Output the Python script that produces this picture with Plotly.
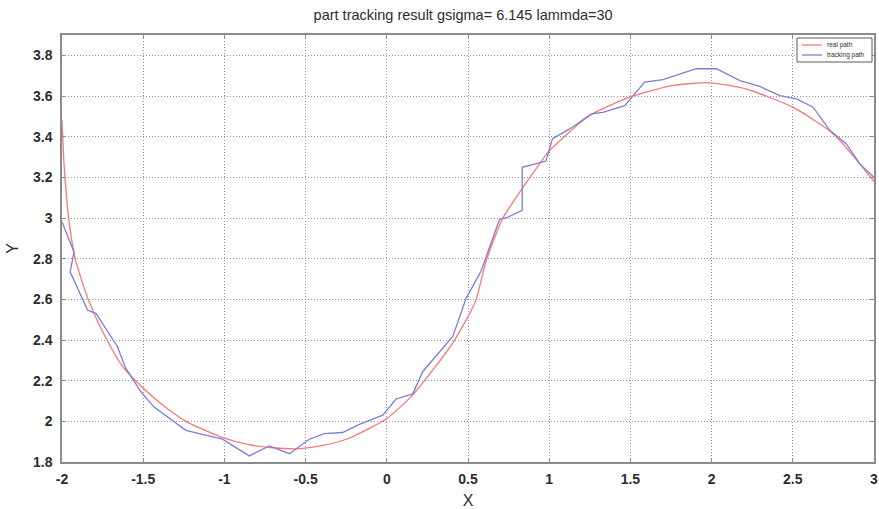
import plotly.graph_objects as go

real_x = [-2.0, -1.99, -1.98, -1.957, -1.916, -1.834, -1.73, -1.618, -1.515, -1.38, -1.237, -1.01,
          -0.85, -0.7, -0.55, -0.4, -0.23, 0.0, 0.16, 0.41, 0.546, 0.612, 0.715, 0.838, 0.94,
          1.0, 1.249, 1.496, 1.763, 1.99, 2.21, 2.5, 2.75, 3.0]
real_y = [3.48, 3.30, 3.18, 2.985, 2.79, 2.59, 2.41, 2.26, 2.175, 2.08, 2.0, 1.92,
          1.885, 1.87, 1.865, 1.88, 1.918, 2.014, 2.13, 2.39, 2.59, 2.79, 3.0, 3.15, 3.265,
          3.33, 3.504, 3.594, 3.652, 3.665, 3.635, 3.545, 3.413, 3.18]

track_x = [-2.0, -1.936, -1.926, -1.95, -1.843, -1.79, -1.659, -1.607, -1.515, -1.433, -1.237,
           -1.155, -1.012, -0.847, -0.724, -0.60, -0.477, -0.385, -0.272, -0.169, -0.025, 0.057,
           0.16, 0.221, 0.406, 0.489, 0.58, 0.694, 0.735, 0.834, 0.834, 0.951, 0.98, 1.02,
           1.126, 1.26, 1.331, 1.465, 1.588, 1.70, 1.906, 2.03, 2.174, 2.297, 2.42, 2.523,
           2.625, 2.729, 2.83, 2.914, 3.0]
track_y = [2.98, 2.85, 2.833, 2.735, 2.547, 2.53, 2.368, 2.26, 2.146, 2.07, 1.956,
           1.94, 1.912, 1.83, 1.879, 1.841, 1.912, 1.94, 1.945, 1.985, 2.03, 2.11,
           2.135, 2.244, 2.417, 2.606, 2.738, 2.993, 3.0, 3.038, 3.249, 3.273, 3.28, 3.39,
           3.438, 3.512, 3.52, 3.553, 3.668, 3.681, 3.734, 3.734, 3.676, 3.647, 3.602, 3.586,
           3.545, 3.43, 3.364, 3.265, 3.2]

series_names = ["real path", "tracking path"]
series_colors = ["rgb(248,120,120)", "rgb(125,125,215)"]

x_ticks = [-2, -1.5, -1, -0.5, 0, 0.5, 1, 1.5, 2, 2.5, 3]
x_labels = ["-2", "-1.5", "-1", "-0.5", "0", "0.5", "1", "1.5", "2", "2.5", "3"]
y_ticks = [1.8, 2, 2.2, 2.4, 2.6, 2.8, 3, 3.2, 3.4, 3.6, 3.8]
y_labels = ["1.8", "2", "2.2", "2.4", "2.6", "2.8", "3", "3.2", "3.4", "3.6", "3.8"]

FONT = "Liberation Sans, Arial"
TXT = "rgb(45,45,45)"

fig = go.Figure()
fig.add_trace(go.Scatter(x=real_x, y=real_y, mode="lines", name=series_names[0], showlegend=False,
                         line=dict(color=series_colors[0], width=1.3, shape="spline", smoothing=0.6)))
fig.add_trace(go.Scatter(x=track_x, y=track_y, mode="lines", name=series_names[1], showlegend=False,
                         line=dict(color=series_colors[1], width=1.3)))

axis_common = dict(showgrid=True, gridcolor="rgb(150,150,150)", griddash="1px,2px", gridwidth=1,
                   showline=True, linecolor="rgb(140,140,140)", linewidth=1.5, mirror="ticks",
                   ticks="inside", ticklen=4, tickcolor="rgb(140,140,140)", zeroline=False,
                   automargin=False,
                   tickfont=dict(family=FONT, size=14, color=TXT, weight="bold"))

# compact legend box (top-right, inside the axes), in paper coordinates
W, H = 879, 509
L, R, T, B = 62, 5, 35, 47
pw, ph = W - L - R, H - T - B
def px(xp):
    return (xp - L) / pw
def py(yp):
    return 1 - (yp - T) / ph

shapes = [dict(type="rect", xref="paper", yref="paper",
               x0=px(797), x1=px(872), y0=py(62), y1=py(38),
               line=dict(color="rgb(90,90,90)", width=1), fillcolor="white", layer="above")]
annotations = []
for i, (nm, col) in enumerate(zip(series_names, series_colors)):
    yy = 45 + i * 10
    shapes.append(dict(type="line", xref="paper", yref="paper",
                       x0=px(802), x1=px(822), y0=py(yy), y1=py(yy),
                       line=dict(color=col, width=1.3), layer="above"))
    annotations.append(dict(text=nm, xref="paper", yref="paper", x=px(825), y=py(yy),
                            xanchor="left", yanchor="middle", showarrow=False,
                            font=dict(family=FONT, size=6.5, color=TXT)))

fig.update_layout(
    width=W, height=H,
    margin=dict(l=L, r=R, t=T, b=B),
    paper_bgcolor="white", plot_bgcolor="white",
    title=dict(text="part tracking result gsigma= 6.145 lammda=30", x=0.494, xref="paper",
               xanchor="center", y=0.9705, yref="container", yanchor="middle",
               font=dict(family=FONT, size=14.5, color=TXT)),
    xaxis=dict(range=[-2, 3], tickvals=x_ticks, ticktext=x_labels, ticklabelstandoff=3,
               title=dict(text="X", font=dict(family=FONT, size=16, color=TXT), standoff=9),
               **axis_common),
    yaxis=dict(range=[1.8, 3.9], tickvals=y_ticks, ticktext=y_labels, ticklabelstandoff=5,
               title=dict(text="Y", font=dict(family=FONT, size=16, color=TXT), standoff=10),
               **axis_common),
    shapes=shapes,
    annotations=annotations,
    showlegend=False,
)

fig.write_html("out.html", config={"displayModeBar": False},
               post_script="document.body.style.margin='0px';")
